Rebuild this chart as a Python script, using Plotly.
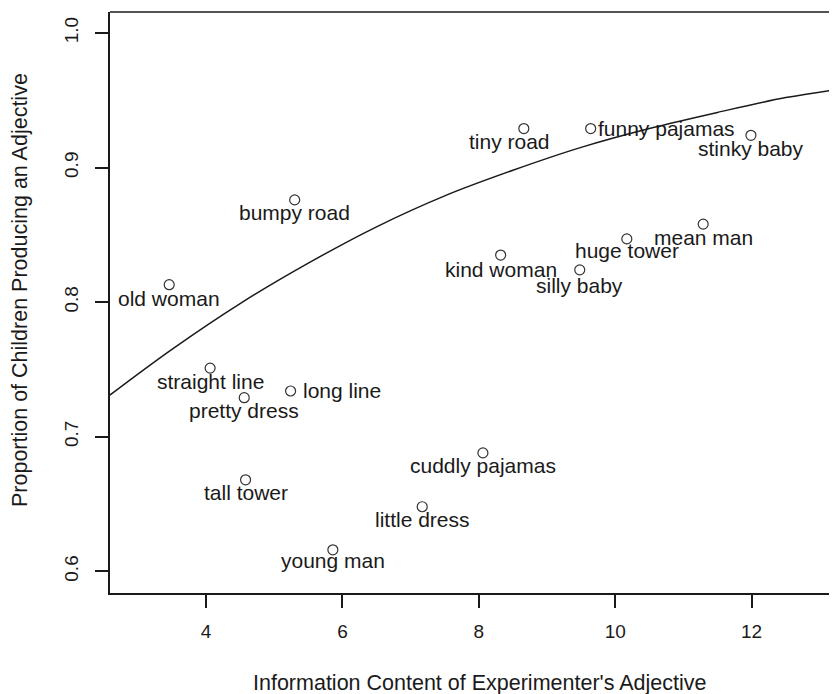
import plotly.graph_objects as go

# ---- data ----
words = ["old woman", "bumpy road", "straight line", "long line", "pretty dress",
         "tall tower", "young man", "little dress", "cuddly pajamas", "kind woman",
         "tiny road", "silly baby", "funny pajamas", "huge tower", "mean man", "stinky baby"]
info_content = [3.46, 5.30, 4.06, 5.24, 4.56,
                4.58, 5.86, 7.17, 8.06, 8.32,
                8.66, 9.48, 9.64, 10.17, 11.29, 11.99]
prop_produce = [0.813, 0.876, 0.751, 0.734, 0.729,
                0.668, 0.616, 0.648, 0.688, 0.835,
                0.929, 0.824, 0.929, 0.847, 0.858, 0.924]

# fitted curve
curve_x = [2.59, 3.5, 4.5, 5.5, 6.5, 7.5, 8.5, 9.5, 10.5, 11.5, 12.5, 13.25]
curve_y = [0.731, 0.765, 0.799, 0.829, 0.856, 0.879, 0.898, 0.915, 0.929, 0.941, 0.952, 0.958]

x_ticks = [4, 6, 8, 10, 12]
y_ticks = [0.6, 0.7, 0.8, 0.9, 1.0]

x_title = "Information Content of Experimenter's Adjective"
y_title = "Proportion of Children Producing an Adjective"

# ---- label placement (pixel shifts, style) ----
default_shift = (0, -13, "center")
special_shift = {
    "tiny road": (-14, -13, "center"),
    "funny pajamas": (5, 0, "left"),
    "long line": (10, 0, "left"),
    "silly baby": (0, -16, "center"),
    "young man": (0, -11, "center"),
    "old woman": (0, -14, "center"),
    "kind woman": (0, -14, "center"),
    "huge tower": (0, -12, "center"),
}

FONT = "Liberation Sans, Arial, Helvetica, sans-serif"
INK = "#1a1a1a"

fig = go.Figure()
fig.add_trace(go.Scatter(x=curve_x, y=curve_y, mode="lines",
                         line=dict(color=INK, width=1.5, shape="spline"),
                         hoverinfo="skip", showlegend=False))
fig.add_trace(go.Scatter(x=info_content, y=prop_produce, mode="markers",
                         marker=dict(symbol="circle-open", size=10, color="#333333",
                                     line=dict(color="#333333", width=1.2)),
                         showlegend=False))

for w, xv, yv in zip(words, info_content, prop_produce):
    dx, dy, anc = special_shift.get(w, default_shift)
    fig.add_annotation(x=xv, y=yv, text=w, showarrow=False,
                       xanchor=anc, yanchor="middle", xshift=dx, yshift=dy,
                       font=dict(family=FONT, size=21, color=INK))

fig.add_annotation(x=0.5076, xref="paper", y=-0.1549, yref="paper", text=x_title,
                   showarrow=False, xanchor="center", yanchor="middle",
                   font=dict(family=FONT, size=21.5, color=INK))
fig.add_annotation(x=-0.1238, xref="paper", y=0.5215, yref="paper", text=y_title,
                   showarrow=False, xanchor="center", yanchor="middle", textangle=-90,
                   font=dict(family=FONT, size=21.5, color=INK))

fig.update_layout(
    width=829, height=686,
    margin=dict(l=102, r=0, t=4, b=101),
    paper_bgcolor="white", plot_bgcolor="white",
    font=dict(family=FONT, size=19, color=INK),
    xaxis=dict(range=[2.592, 13.252], tickvals=x_ticks, ticktext=[str(v) for v in x_ticks],
               showgrid=False, zeroline=False, showline=True, linecolor=INK, linewidth=1.5,
               mirror=False, ticks="outside", ticklen=13, tickwidth=1.5, tickcolor=INK,
               ticklabelstandoff=7),
    yaxis=dict(range=[0.5839, 1.0156], tickvals=y_ticks,
               ticktext=[f"{v:.1f}" for v in y_ticks], tickangle=-90,
               showgrid=False, zeroline=False, showline=True, linecolor=INK, linewidth=1.5,
               ticks="outside", ticklen=13, tickwidth=1.5, tickcolor=INK,
               ticklabelstandoff=10),
)
fig.add_shape(type="line", xref="paper", yref="paper", x0=0, x1=1, y0=1, y1=1,
              line=dict(color=INK, width=1.5))

fig.write_html("out.html")
